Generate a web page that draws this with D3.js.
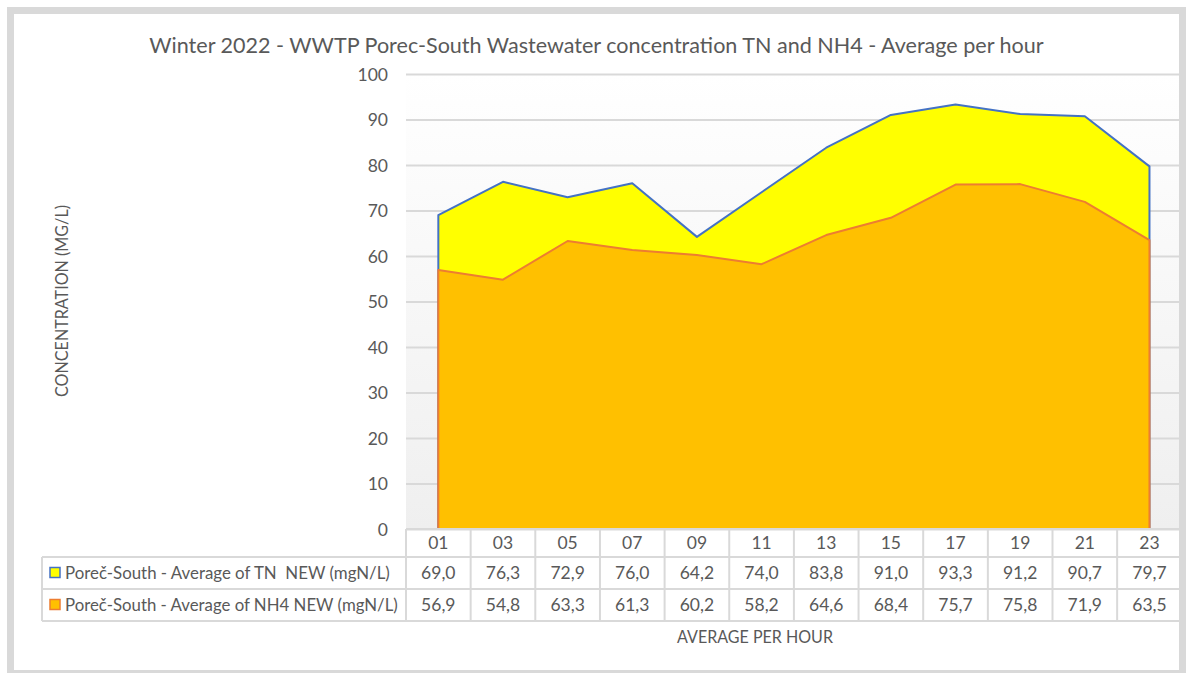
<!DOCTYPE html>
<html>
<head>
<meta charset="utf-8">
<script src="https://cdn.jsdelivr.net/npm/d3@7"></script>
<style>
  body { margin: 0; background: #fff; }
  svg text { font-family: Lato, "Open Sans", sans-serif; fill: #595959; white-space: pre; }
</style>
</head>
<body>
<div id="chart"></div>
<script>
// chart data
const hours = ['01', '03', '05', '07', '09', '11', '13', '15', '17', '19', '21', '23'];
const tnValues = [69.0, 76.3, 72.9, 76.0, 64.2, 74.0, 83.8, 91.0, 93.3, 91.2, 90.7, 79.7];
const nh4Values = [56.9, 54.8, 63.3, 61.3, 60.2, 58.2, 64.6, 68.4, 75.7, 75.8, 71.9, 63.5];
const yTicks = [0, 10, 20, 30, 40, 50, 60, 70, 80, 90, 100];
const seriesNames = ['Poreč-South - Average of TN  NEW (mgN/L)', 'Poreč-South - Average of NH4 NEW (mgN/L)'];

const W = 1192, H = 673;
const plotLeft = 406, colW = 64.65;
const plotRight = plotLeft + hours.length * colW;
const plotTop = 74, plotBottom = 529;
const rowH = [28, 32, 32];
const grid = '#d9d9d9';

const svg = d3.select('#chart').append('svg')
  .attr('width', W).attr('height', H);

const defs = svg.append('defs');
const grad = defs.append('linearGradient')
  .attr('id', 'plotBg').attr('x1', 0).attr('y1', 0).attr('x2', 0).attr('y2', 1);
grad.append('stop').attr('offset', '0%').attr('stop-color', '#ffffff');
grad.append('stop').attr('offset', '100%').attr('stop-color', '#efefef');

svg.append('rect').attr('width', W).attr('height', H).attr('fill', '#fff');

const x = d3.scaleBand().domain(hours).range([plotLeft, plotRight]).padding(0);
const cx = d => x(d) + x.bandwidth() / 2;
const y = d3.scaleLinear().domain([0, 100]).range([plotBottom, plotTop]);

// plot background
svg.append('rect')
  .attr('x', plotLeft).attr('y', plotTop)
  .attr('width', plotRight - plotLeft).attr('height', plotBottom - plotTop)
  .attr('fill', 'url(#plotBg)');

// gridlines
svg.append('g')
  .attr('transform', `translate(${plotLeft},0)`)
  .call(d3.axisLeft(y).tickValues(yTicks).tickSize(-(plotRight - plotLeft)).tickFormat(''))
  .call(g => g.select('.domain').remove())
  .call(g => g.selectAll('line').attr('stroke', grid).attr('stroke-width', 2));

// y tick labels
svg.append('g')
  .attr('transform', `translate(${388},0)`)
  .call(d3.axisLeft(y).tickValues(yTicks).tickSize(0).tickPadding(0).tickFormat(d3.format('d')))
  .call(g => g.select('.domain').remove())
  .call(g => g.selectAll('text')
    .style('font-size', '17.5px').attr('fill', '#595959')
    .attr('dy', '0.36em'));

// areas (not stacked, NH4 drawn over TN)
const area = d3.area()
  .x((d, i) => cx(hours[i]))
  .y0(y(0))
  .y1(d => y(d));

function closedPath(vals) {
  return area(vals) + 'Z';
}

svg.append('path')
  .attr('d', closedPath(tnValues))
  .attr('fill', '#ffff00')
  .attr('stroke', '#4472c4')
  .attr('stroke-width', 2)
  .attr('stroke-linejoin', 'round');

svg.append('path')
  .attr('d', closedPath(nh4Values))
  .attr('fill', '#ffc000')
  .attr('stroke', '#ed7d31')
  .attr('stroke-width', 2)
  .attr('stroke-linejoin', 'round');

// data table
const table = svg.append('g');
const yRow0 = plotBottom;
const yRow1 = yRow0 + rowH[0];
const yRow2 = yRow1 + rowH[1];
const yRow3 = yRow2 + rowH[2];
const legendLeft = 42;

// horizontal lines
table.append('line').attr('x1', plotLeft).attr('x2', plotRight).attr('y1', yRow0).attr('y2', yRow0);
[yRow1, yRow2, yRow3].forEach(yy => {
  table.append('line').attr('x1', legendLeft).attr('x2', plotRight).attr('y1', yy).attr('y2', yy);
});
// vertical lines
table.append('line').attr('x1', legendLeft).attr('x2', legendLeft).attr('y1', yRow1).attr('y2', yRow3);
hours.forEach(h => {
  table.append('line').attr('x1', x(h)).attr('x2', x(h)).attr('y1', yRow0).attr('y2', yRow3);
});
table.append('line').attr('x1', plotRight).attr('x2', plotRight).attr('y1', yRow0).attr('y2', yRow3);
table.selectAll('line').attr('stroke', grid).attr('stroke-width', 2);

const fmt = v => v.toFixed(1).replace('.', ',');

table.selectAll('.hdr').data(hours).enter().append('text')
  .attr('class', 'hdr')
  .attr('x', d => cx(d)).attr('y', (yRow0 + yRow1) / 2)
  .attr('dy', '0.36em').attr('text-anchor', 'middle')
  .style('font-size', '17.5px')
  .text(d => d);

[tnValues, nh4Values].forEach((vals, k) => {
  const yc = k === 0 ? (yRow1 + yRow2) / 2 : (yRow2 + yRow3) / 2;
  table.selectAll('.val' + k).data(vals).enter().append('text')
    .attr('class', 'val' + k)
    .attr('x', (d, i) => cx(hours[i])).attr('y', yc)
    .attr('dy', '0.36em').attr('text-anchor', 'middle')
    .style('font-size', '17.5px')
    .text(d => fmt(d));
});

// legend keys in table
const keyFill = ['#ffff00', '#ffc000'];
const keyStroke = ['#4472c4', '#ed7d31'];
const legendTargets = [325, 333];
seriesNames.forEach((name, k) => {
  const yc = k === 0 ? (yRow1 + yRow2) / 2 : (yRow2 + yRow3) / 2;
  table.append('rect')
    .attr('x', 50).attr('y', yc - 5.5).attr('width', 10).attr('height', 10)
    .attr('fill', keyFill[k]).attr('stroke', keyStroke[k]).attr('stroke-width', 1.5);
  const t = table.append('text')
    .attr('x', 65).attr('y', yc).attr('dy', '0.36em')
    .style('font-size', '17px')
    .text(name);
  fitSize(t, legendTargets[k]);
});

// titles
const title = svg.append('text')
  .attr('x', 596.5).attr('y', 52.5)
  .attr('text-anchor', 'middle')
  .style('font-size', '21px')
  .text('Winter 2022 - WWTP Porec-South Wastewater concentration TN and NH4 - Average per hour');
fitText(title, 895);

const yTitle = svg.append('text')
  .attr('transform', 'translate(68,301) rotate(-90)')
  .attr('text-anchor', 'middle')
  .style('font-size', '17.5px')
  .text('CONCENTRATION (MG/L)');
fitText(yTitle, 192);

const xTitle = svg.append('text')
  .attr('x', 755).attr('y', 642.5)
  .attr('text-anchor', 'middle')
  .style('font-size', '17.5px')
  .text('AVERAGE PER HOUR');
fitText(xTitle, 156);

// outer border
svg.append('rect')
  .attr('x', 10.5).attr('y', 10.5)
  .attr('width', 1172).attr('height', 663)
  .attr('fill', 'none')
  .attr('stroke', grid)
  .attr('stroke-width', 7);

// scale font size so text takes the reference width
function fitSize(sel, target) {
  const fs = parseFloat(sel.style('font-size'));
  const w = sel.node().getComputedTextLength();
  if (w > 0) sel.style('font-size', (fs * target / w).toFixed(2) + 'px');
}

// squeeze text to the width it has in the reference, keeping its height
function fitText(sel, target) {
  const w = sel.node().getComputedTextLength();
  if (w > target) {
    sel.attr('textLength', target).attr('lengthAdjust', 'spacingAndGlyphs');
  } else {
    fitSize(sel, target);
  }
}
</script>
</body>
</html>
